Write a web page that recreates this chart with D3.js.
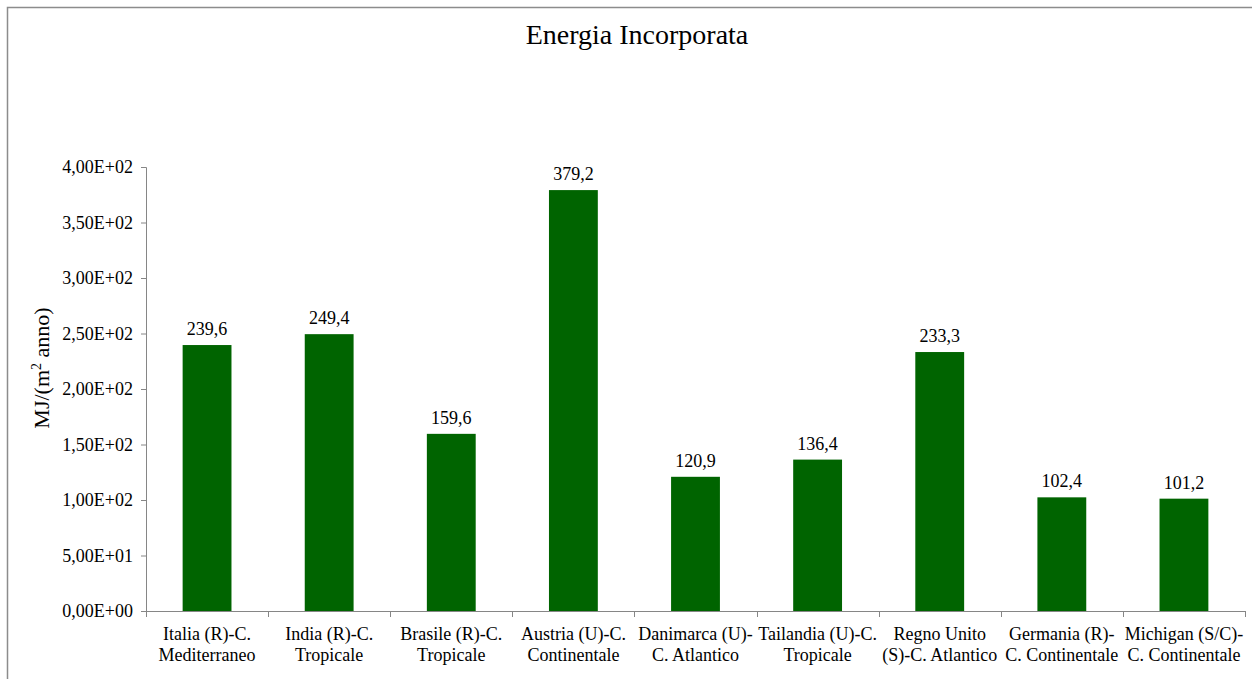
<!DOCTYPE html>
<html>
<head>
<meta charset="utf-8">
<script src="https://cdn.jsdelivr.net/npm/d3@7"></script>
<style>
  body { margin: 0; background: #fff; }
  svg text { font-family: "Liberation Serif", "Times New Roman", serif; fill: #000; }
</style>
</head>
<body>
<div id="chart"></div>
<script>
const width = 1252, height = 679;
const margin = { top: 167, right: 7, bottom: 68, left: 146 };

// data
const categories = [
  ["Italia (R)-C.", "Mediterraneo"],
  ["India (R)-C.", "Tropicale"],
  ["Brasile (R)-C.", "Tropicale"],
  ["Austria (U)-C.", "Continentale"],
  ["Danimarca (U)-", "C. Atlantico"],
  ["Tailandia (U)-C.", "Tropicale"],
  ["Regno Unito", "(S)-C. Atlantico"],
  ["Germania (R)-", "C. Continentale"],
  ["Michigan (S/C)-", "C. Continentale"]
];
const values = [239.6, 249.4, 159.6, 379.2, 120.9, 136.4, 233.3, 102.4, 101.2];
const yTicks = [0, 50, 100, 150, 200, 250, 300, 350, 400];
const yTickLabels = ["0,00E+00", "5,00E+01", "1,00E+02", "1,50E+02", "2,00E+02",
  "2,50E+02", "3,00E+02", "3,50E+02", "4,00E+02"];

const svg = d3.select("#chart").append("svg")
  .attr("width", width)
  .attr("height", height);

// chart area border
svg.append("rect")
  .attr("x", 7.5).attr("y", 7.5)
  .attr("width", width + 20).attr("height", height + 20)
  .attr("fill", "none")
  .attr("stroke", "#8c8c8c")
  .attr("stroke-width", 1.5);

const x = d3.scaleBand()
  .domain(d3.range(categories.length))
  .range([margin.left, width - margin.right])
  .paddingInner(0.6).paddingOuter(0.3);

const band = x.step();
const x0 = margin.left;

const y = d3.scaleLinear().domain([0, 400]).range([height - margin.bottom, margin.top]);

// title
svg.append("text")
  .attr("x", 637).attr("y", 44)
  .attr("text-anchor", "middle")
  .style("font-size", "28px")
  .text("Energia Incorporata");

// bars
svg.selectAll("rect.bar")
  .data(values)
  .enter()
  .append("rect")
  .attr("class", "bar")
  .attr("x", (d, i) => x(i))
  .attr("width", x.bandwidth())
  .attr("y", d => y(d))
  .attr("height", d => y(0) - y(d))
  .attr("fill", "#006400");

// value labels
svg.selectAll("text.val")
  .data(values)
  .enter()
  .append("text")
  .attr("class", "val")
  .attr("x", (d, i) => x(i) + x.bandwidth() / 2)
  .attr("y", d => y(d) - 10)
  .attr("text-anchor", "middle")
  .style("font-size", "18px")
  .text(d => d.toFixed(1).replace(".", ","));

// y axis
const yAxis = svg.append("g")
  .attr("transform", "translate(" + margin.left + ",0)")
  .call(d3.axisLeft(y).tickValues(yTicks).tickSize(5).tickPadding(8)
    .tickFormat((d, i) => yTickLabels[i]));
yAxis.attr("font-family", null);
yAxis.select(".domain").attr("stroke", "#868686");
yAxis.selectAll(".tick line").attr("stroke", "#868686");
yAxis.selectAll(".tick text")
  .style("font-size", "18px")
  .attr("fill", "#000");

// x axis line + ticks at band edges
const xAxisY = y(0);
svg.append("line")
  .attr("x1", x0).attr("x2", width - margin.right)
  .attr("y1", xAxisY + 0.5).attr("y2", xAxisY + 0.5)
  .attr("stroke", "#868686");
svg.selectAll("line.xtick")
  .data(d3.range(categories.length + 1))
  .enter()
  .append("line")
  .attr("class", "xtick")
  .attr("x1", i => Math.round(x0 + i * band) + 0.5)
  .attr("x2", i => Math.round(x0 + i * band) + 0.5)
  .attr("y1", xAxisY)
  .attr("y2", xAxisY + 6)
  .attr("stroke", "#868686");

// x labels
const xl = svg.selectAll("text.xlab")
  .data(categories)
  .enter()
  .append("text")
  .attr("class", "xlab")
  .attr("text-anchor", "middle")
  .style("font-size", "18px")
  .attr("transform", (d, i) => "translate(" + (x(i) + x.bandwidth() / 2) + "," + (xAxisY + 29) + ")");
xl.append("tspan").attr("x", 0).attr("y", 0).text(d => d[0]);
xl.append("tspan").attr("x", 0).attr("y", 21).text(d => d[1]);

// y label
const yl = svg.append("text")
  .attr("transform", "translate(49," + 368 + ") rotate(-90)")
  .attr("text-anchor", "middle")
  .style("font-size", "22px");
yl.append("tspan").text("MJ/(m");
yl.append("tspan").attr("dy", -8).style("font-size", "14px").text("2");
yl.append("tspan").attr("dy", 8).text(" anno)");
</script>
</body>
</html>
